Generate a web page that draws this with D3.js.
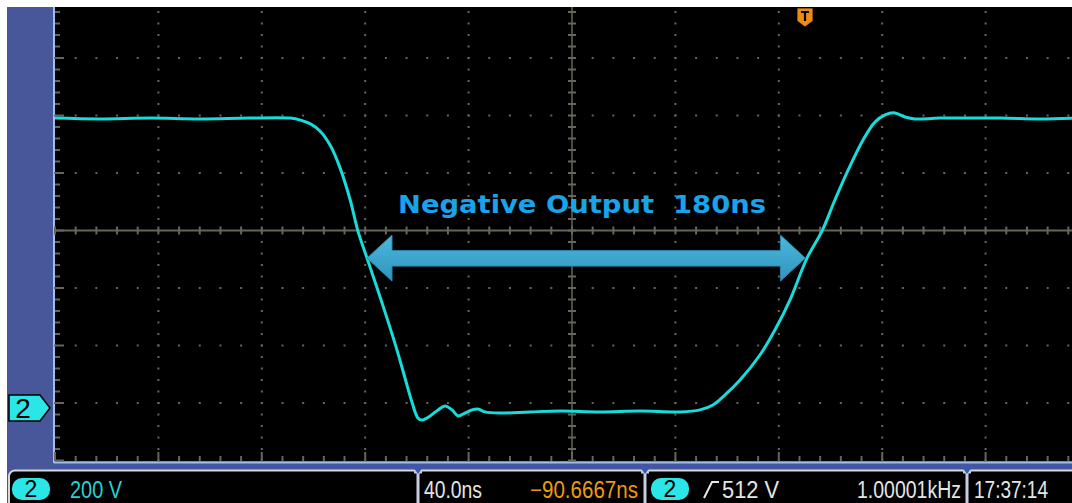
<!DOCTYPE html>
<html>
<head>
<meta charset="utf-8">
<script src="https://cdn.jsdelivr.net/npm/d3@7"></script>
<style>
  html, body { margin: 0; padding: 0; background: #fff; }
  svg { display: block; }
</style>
</head>
<body>
<div id="chart"></div>
<script>
// trace: time (ns, 0 = screen centre) and channel 2 volts
var timeNs = [-200, -183, -163, -144, -125, -109, -105, -101, -97.5, -93.6, -89.7, -85.8, -82.8, -79.3, -75.4, -71.6,
  -67.7, -64.6, -61.9, -59.6, -58.0, -54.9, -51.8, -49.1, -46.4, -44.1, -41.4, -38.7, -36.4, -33.7, -27.9, -16.2,
  -4.6, 10.8, 26.3, 41.8, 49.5, 54.5, 59.2, 65.0, 72.7, 78.5, 84.3, 90.9, 96.7, 101.7, 106.8, 112.6, 117.2, 121.1,
  124.9, 128.8, 132.7, 142.3, 165.5, 181.0, 195];
var volts = [991, 988, 991, 988, 991, 991, 984, 970, 946, 897, 817, 706, 598, 504, 400, 296,
  184, 87, 3, -52, -59, -45, -24, -10, -24, -45, -35, -24, -21, -31, -35, -31,
  -28, -31, -28, -31, -24, -7, 28, 80, 167, 254, 358, 504, 598, 706, 810, 915, 977, 1002,
  1009, 995, 988, 991, 991, 988, 991];

var timeTicks = [-200, -160, -120, -80, -40, 0, 40, 80, 120, 160, 200];   // 40 ns/div
var voltTicks = [-200, 0, 200, 400, 600, 800, 1000, 1200, 1400];          // 200 V/div

var statusLeft = ["2", "200 V"];
var statusMid = ["40.0ns", "\u221290.6667ns"];
var statusTrig = ["2", "512 V"];
var statusRight = ["1.00001kHz", "17:37:14"];
var annotation = "Negative Output  180ns";

var W = 1072, H = 503;
var svg = d3.select("#chart").append("svg").attr("width", W).attr("height", H);

var x = d3.scaleLinear().domain([-200, 200]).range([55, 1089]);
var y = d3.scaleLinear().domain([-200, 1400]).range([460.5, 0.5]);

var gridCol = "#66665a";
var scopeFont = "'Liberation Sans Narrow', 'Liberation Sans', Arial, sans-serif";

// blue frame
svg.append("rect").attr("x", 0).attr("y", 0).attr("width", W).attr("height", H).attr("fill", "#48569a");

// plot area
svg.append("rect").attr("x", 55).attr("y", 0).attr("width", W - 55).attr("height", 461).attr("fill", "#000");
svg.append("line").attr("x1", 54).attr("x2", 54).attr("y1", 0).attr("y2", 463)
  .attr("stroke", "#9cc0ec").attr("stroke-width", 2);
svg.append("line").attr("x1", 54).attr("x2", W).attr("y1", 462.5).attr("y2", 462.5)
  .attr("stroke", "#9cc0ec").attr("stroke-width", 2);
svg.append("line").attr("x1", 54).attr("x2", W).attr("y1", 466.5).attr("y2", 466.5)
  .attr("stroke", "#3a58b0").attr("stroke-width", 3);

var grid = svg.append("g");
var minorX = d3.range(-200, 200.01, 8);
var minorY = d3.range(-200, 1400.01, 40);

// dotted major lines
timeTicks.slice(1, -1).forEach(function(t) {
  if (t === 0) return;
  grid.selectAll(null).data(minorY).enter().append("rect")
    .attr("x", x(t) - 1).attr("y", function(v) { return y(v) - 1; })
    .attr("width", 2).attr("height", 2).attr("fill", gridCol);
});
voltTicks.slice(1, -1).forEach(function(v) {
  if (v === 600) return;
  grid.selectAll(null).data(minorX).enter().append("rect")
    .attr("x", function(t) { return x(t) - 1; }).attr("y", y(v) - 1)
    .attr("width", 2).attr("height", 2).attr("fill", gridCol);
});

// centre cross with ticks
grid.append("line").attr("x1", x(-200)).attr("x2", x(200)).attr("y1", y(600)).attr("y2", y(600))
  .attr("stroke", gridCol).attr("stroke-width", 2);
grid.append("line").attr("x1", x(0)).attr("x2", x(0)).attr("y1", y(1400)).attr("y2", y(-200))
  .attr("stroke", gridCol).attr("stroke-width", 1.5);
grid.selectAll(null).data(minorX).enter().append("line")
  .attr("x1", function(t) { return x(t); }).attr("x2", function(t) { return x(t); })
  .attr("y1", y(600) - 4).attr("y2", y(600) + 4).attr("stroke", gridCol).attr("stroke-width", 2);
grid.selectAll(null).data(minorY).enter().append("line")
  .attr("x1", x(0) - 4).attr("x2", x(0) + 4)
  .attr("y1", function(v) { return y(v); }).attr("y2", function(v) { return y(v); })
  .attr("stroke", gridCol).attr("stroke-width", 2);

// edge ticks
grid.selectAll(null).data(minorY).enter().append("line")
  .attr("x1", 55).attr("x2", function(v) { return voltTicks.indexOf(v) >= 0 ? 64 : 60; })
  .attr("y1", function(v) { return y(v); }).attr("y2", function(v) { return y(v); })
  .attr("stroke", gridCol).attr("stroke-width", 2);
grid.selectAll(null).data(minorX).enter().append("line")
  .attr("x1", function(t) { return x(t); }).attr("x2", function(t) { return x(t); })
  .attr("y1", 461).attr("y2", function(t) { return timeTicks.indexOf(t) >= 0 ? 452 : 456; })
  .attr("stroke", gridCol).attr("stroke-width", 2);

// trace
var pts = timeNs.map(function(t, i) { return [t, volts[i]]; });
var line = d3.line().x(function(d) { return x(d[0]); }).y(function(d) { return y(d[1]); })
  .curve(d3.curveCatmullRom.alpha(0.5));
svg.append("path").datum(pts).attr("d", line).attr("fill", "none")
  .attr("stroke", "#16dcdc").attr("stroke-width", 3).attr("stroke-linejoin", "round");

// annotation arrow
var defs = svg.append("defs");
var grad = defs.append("linearGradient").attr("id", "arrowGrad").attr("x1", 0).attr("x2", 0).attr("y1", 0).attr("y2", 1);
grad.append("stop").attr("offset", "0%").attr("stop-color", "#4cb8dc");
grad.append("stop").attr("offset", "100%").attr("stop-color", "#2f95bd");

var aL = x(-79.3), aR = x(90.3), aY = y(504);
var arrow = d3.path();
arrow.moveTo(aL, aY);
arrow.lineTo(aL + 25, aY - 23);
arrow.lineTo(aL + 25, aY - 7.5);
arrow.lineTo(aR - 25, aY - 7.5);
arrow.lineTo(aR - 25, aY - 23);
arrow.lineTo(aR, aY);
arrow.lineTo(aR - 25, aY + 23);
arrow.lineTo(aR - 25, aY + 8);
arrow.lineTo(aL + 25, aY + 8);
arrow.lineTo(aL + 25, aY + 23);
arrow.closePath();
svg.append("path").attr("d", arrow.toString()).attr("fill", "url(#arrowGrad)")
  .attr("stroke", "#2a88b0").attr("stroke-width", 1);

svg.append("text").attr("x", 582).attr("y", 213).attr("text-anchor", "middle")
  .attr("font-family", "'DejaVu Sans', Verdana, sans-serif").attr("font-weight", "bold")
  .attr("font-size", 25).attr("fill", "#1aa2ea")
  .attr("textLength", 368).attr("lengthAdjust", "spacingAndGlyphs")
  .attr("xml:space", "preserve").text(annotation);

// trigger marker at top
var tx = 805;
svg.append("path")
  .attr("d", "M" + (tx - 8) + ",8 H" + (tx + 8) + " V21 L" + tx + ",27 L" + (tx - 8) + ",21 Z")
  .attr("fill", "#ec8c14").attr("stroke", "#000").attr("stroke-width", 0.8);
svg.append("path").attr("d", "M" + (tx - 4) + ",12 H" + (tx + 4) + " M" + tx + ",12 V21")
  .attr("stroke", "#000").attr("stroke-width", 2.2).attr("fill", "none");

// channel 2 ground marker
var gy = y(0) + 5;
svg.append("path")
  .attr("d", "M9," + (gy - 13) + " H40 L50," + gy + " L40," + (gy + 13) + " H9 Z")
  .attr("fill", "#2ae6e6").attr("stroke", "#000").attr("stroke-width", 1.5);
svg.append("text").attr("x", 23).attr("y", gy + 10).attr("text-anchor", "middle")
  .attr("font-family", scopeFont).attr("font-size", 28).attr("fill", "#000").text("2");

// white crop strips
svg.append("rect").attr("x", 0).attr("y", 0).attr("width", W).attr("height", 7).attr("fill", "#fff");
svg.append("rect").attr("x", 0).attr("y", 0).attr("width", 7).attr("height", H).attr("fill", "#fff");

// status bar
svg.append("rect").attr("x", 9).attr("y", 470.5).attr("width", W + 10).attr("height", 40).attr("rx", 6)
  .attr("fill", "#000").attr("stroke", "#d8d8d8").attr("stroke-width", 2);

function badge(cx, label) {
  svg.append("rect").attr("x", cx - 19).attr("y", 478).attr("width", 38).attr("height", 22).attr("rx", 10)
    .attr("fill", "#2ae6e6");
  svg.append("text").attr("x", cx).attr("y", 497).attr("text-anchor", "middle")
    .attr("font-family", scopeFont).attr("font-size", 23).attr("fill", "#000").text(label);
}
function label(x0, w, txt, col) {
  svg.append("text").attr("x", x0).attr("y", 497.5)
    .attr("font-family", scopeFont).attr("font-size", 23).attr("fill", col)
    .attr("textLength", w).attr("lengthAdjust", "spacingAndGlyphs").text(txt);
}
function divider(xd) {
  svg.append("path").attr("d", "M" + (xd - 4) + ",472 H" + (xd + 4) + " M" + xd + ",472 V503")
    .attr("stroke", "#c8cce0").attr("stroke-width", 3).attr("fill", "none");
  svg.append("path").attr("d", "M" + (xd - 5) + ",467 H" + (xd + 5) + " L" + xd + ",474 Z").attr("fill", "#3a58b0");
}

badge(31, statusLeft[0]);
label(70, 52, statusLeft[1], "#22d4d4");
divider(418);
label(424, 58, statusMid[0], "#e6e6e6");
label(530, 108, statusMid[1], "#ec9a14");
divider(645);
badge(670, statusTrig[0]);
svg.append("path").attr("d", "M704,498 L712,482 H719").attr("stroke", "#e6e6e6")
  .attr("stroke-width", 2).attr("fill", "none");
label(722, 57, statusTrig[1], "#e6e6e6");
label(857, 104, statusRight[0], "#e6e6e6");
divider(967);
label(974, 74, statusRight[1], "#e6e6e6");
</script>
</body>
</html>
